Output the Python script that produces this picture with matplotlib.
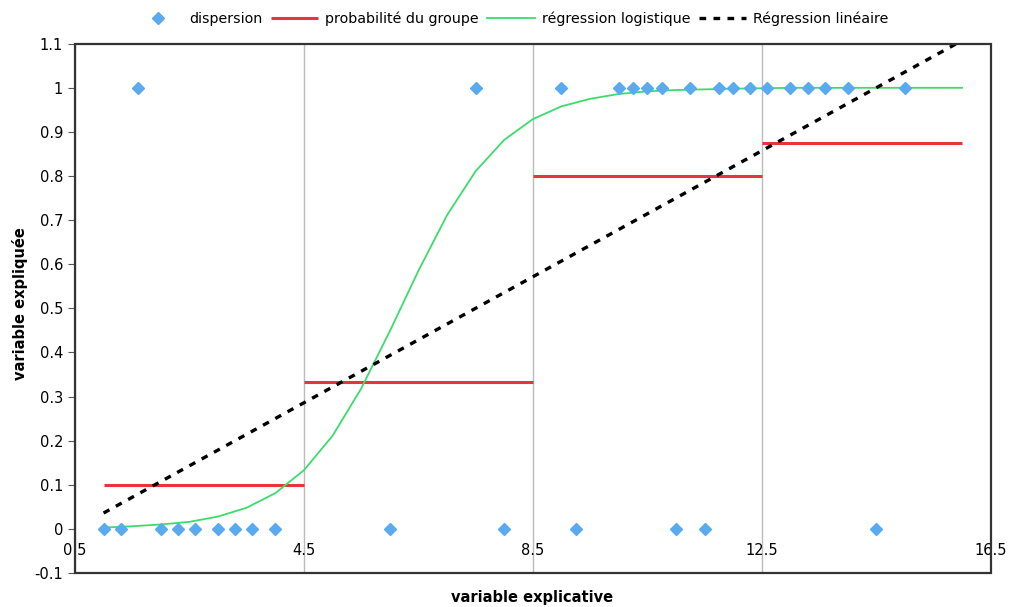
import matplotlib.pyplot as plt
from matplotlib.patches import Rectangle

# observations (variable explicative, variable expliquée)
x_zero = [1, 1.3, 2, 2.3, 2.6, 3, 3.3, 3.6, 4, 6, 8, 9.25, 11, 11.5, 14.5]
x_one = [1.6, 7.5, 9, 10, 10.25, 10.5, 10.75, 11.25, 11.75, 12, 12.3, 12.6,
         13, 13.3, 13.6, 14, 15]

# probabilité par groupe
group_start = [1, 4.5, 8.5, 12.5]
group_end = [4.5, 8.5, 12.5, 16]
group_prob = [0.1, 0.333, 0.8, 0.875]

# courbe logistique
logit_x = [1, 1.5, 2, 2.5, 3, 3.5, 4, 4.5, 5, 5.5, 6, 6.5, 7, 7.5, 8, 8.5,
           9, 9.5, 10, 10.5, 11, 12, 13, 14, 15, 16]
logit_y = [0.003, 0.006, 0.01, 0.016, 0.028, 0.048, 0.081, 0.133, 0.211,
           0.318, 0.448, 0.585, 0.711, 0.811, 0.882, 0.929, 0.958, 0.975,
           0.986, 0.992, 0.995, 0.998, 1.0, 1.0, 1.0, 1.0]

# droite de régression linéaire
lin_x = [1, 15.9]
lin_y = [0.036, 1.1]

xticks = [0.5, 4.5, 8.5, 12.5, 16.5]
yticks = [-0.1, 0, 0.1, 0.2, 0.3, 0.4, 0.5, 0.6, 0.7, 0.8, 0.9, 1, 1.1]
ytick_labels = ["-0.1", "0", "0.1", "0.2", "0.3", "0.4", "0.5", "0.6", "0.7",
                "0.8", "0.9", "1", "1.1"]

fig = plt.figure(figsize=(10.13, 6.07), dpi=100)
ax = fig.add_axes([0.074, 0.056, 0.904, 0.872])

blue = "#5aaaf0"
red = "#e8343c"
green = "#3cdc6c"

ax.plot(x_zero + x_one, [0] * len(x_zero) + [1] * len(x_one), linestyle="none",
        marker="D", markersize=6, color=blue, label="dispersion", zorder=5)
for i in range(len(group_prob)):
    ax.plot([group_start[i], group_end[i]], [group_prob[i], group_prob[i]],
            color=red, lw=2.2, label="probabilité du groupe" if i == 0 else None,
            zorder=3, solid_capstyle="butt")
ax.plot(logit_x, logit_y, color=green, lw=1.3, label="régression logistique", zorder=4)
ax.plot(lin_x, lin_y, color="black", lw=2.4, dashes=(2, 2.2),
        label="Régression linéaire", zorder=4)

ax.set_xlim(0.5, 16.5)
ax.set_ylim(-0.1, 1.1)
ax.set_xticks(xticks)
ax.set_xticklabels(["0.5", "4.5", "8.5", "12.5", "16.5"])
ax.set_yticks(yticks)
ax.set_yticklabels(ytick_labels)

# axe horizontal qui croise à 0 (style Excel)
for s in ax.spines.values():
    s.set_visible(False)
ax.spines["bottom"].set_position(("data", 0))
ax.add_patch(Rectangle((0, 0), 1, 1, transform=ax.transAxes, fill=False,
                       edgecolor="#333333", lw=1.6, zorder=6, clip_on=False))
ax.tick_params(axis="x", length=0, pad=10, labelsize=10.5)
ax.tick_params(axis="y", length=5, width=0.8, color="#555555", labelsize=10.5)
ax.grid(axis="x", color="#bbbbbb", lw=1)
ax.set_axisbelow(True)

fig.text(0.525, 0.004, "variable explicative", ha="center", va="bottom",
         fontsize=10.5, fontweight="bold")
fig.text(0.02, 0.5, "variable expliquée", ha="center", va="center",
         rotation=90, fontsize=10.5, fontweight="bold")

fig.legend(loc="upper center", bbox_to_anchor=(0.505, 1.003), ncol=4, frameon=False,
           fontsize=10.3, handlelength=3.3, columnspacing=0.6, handletextpad=0.5)

fig.savefig("out.png", dpi=100)
